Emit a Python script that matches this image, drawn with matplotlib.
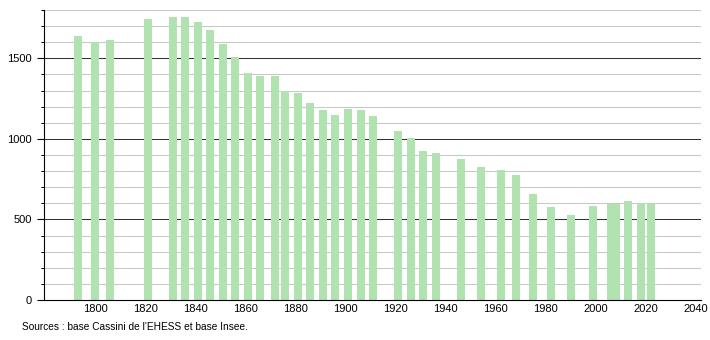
import matplotlib.pyplot as plt
import numpy as np

# census years and population
years = [1793, 1800, 1806, 1821, 1831, 1836, 1841, 1846, 1851, 1856,
         1861, 1866, 1872, 1876, 1881, 1886, 1891, 1896, 1901, 1906,
         1911, 1921, 1926, 1931, 1936, 1946, 1954, 1962, 1968, 1975,
         1982, 1990, 1999, 2006, 2008, 2013, 2018, 2022]
population = [1637, 1600, 1614, 1745, 1757, 1757, 1724, 1676, 1589, 1508,
              1408, 1392, 1388, 1300, 1282, 1220, 1178, 1151, 1184, 1178,
              1140, 1049, 1005, 922, 910, 877, 825, 810, 779, 661,
              580, 528, 586, 598, 598, 617, 604, 596]
x_ticks = list(range(1800, 2041, 20))
source = "Sources : base Cassini de l'EHESS et base Insee."

plt.rcParams['font.family'] = ['Liberation Sans', 'DejaVu Sans']

fig = plt.figure(figsize=(7.1, 3.4), dpi=100)
ax = fig.add_axes([0.062, 0.1176, 0.925, 0.853])

# grid: light every 100, dark every 500
for v in range(100, 1801, 100):
    if v % 500 == 0:
        ax.axhline(v, color='#333333', lw=0.75, zorder=1)
    else:
        ax.axhline(v, color='#c8c8c8', lw=0.75, zorder=1)

ax.bar(years, population, width=3.2, color='#b0e3b0', zorder=2)

ax.set_xlim(1779.5, 2042)
ax.set_ylim(0, 1800)
ax.set_xticks(x_ticks)
ax.set_yticks([0, 500, 1000, 1500])
ax.set_yticks(range(0, 1801, 100), minor=True)
ax.tick_params(axis='x', length=0, labelsize=8, pad=3)
ax.tick_params(axis='y', which='major', length=5, width=0.8, labelsize=8)
ax.tick_params(axis='y', which='minor', length=2.5, width=0.75)
ax.spines['top'].set_visible(False)
ax.spines['right'].set_visible(False)
ax.spines['left'].set_color('black')
ax.spines['bottom'].set_color('black')

fig.text(22 / 710, 1 - 327 / 340, source, fontsize=7.3, va='center', ha='left')

plt.savefig('out.png', dpi=100)
